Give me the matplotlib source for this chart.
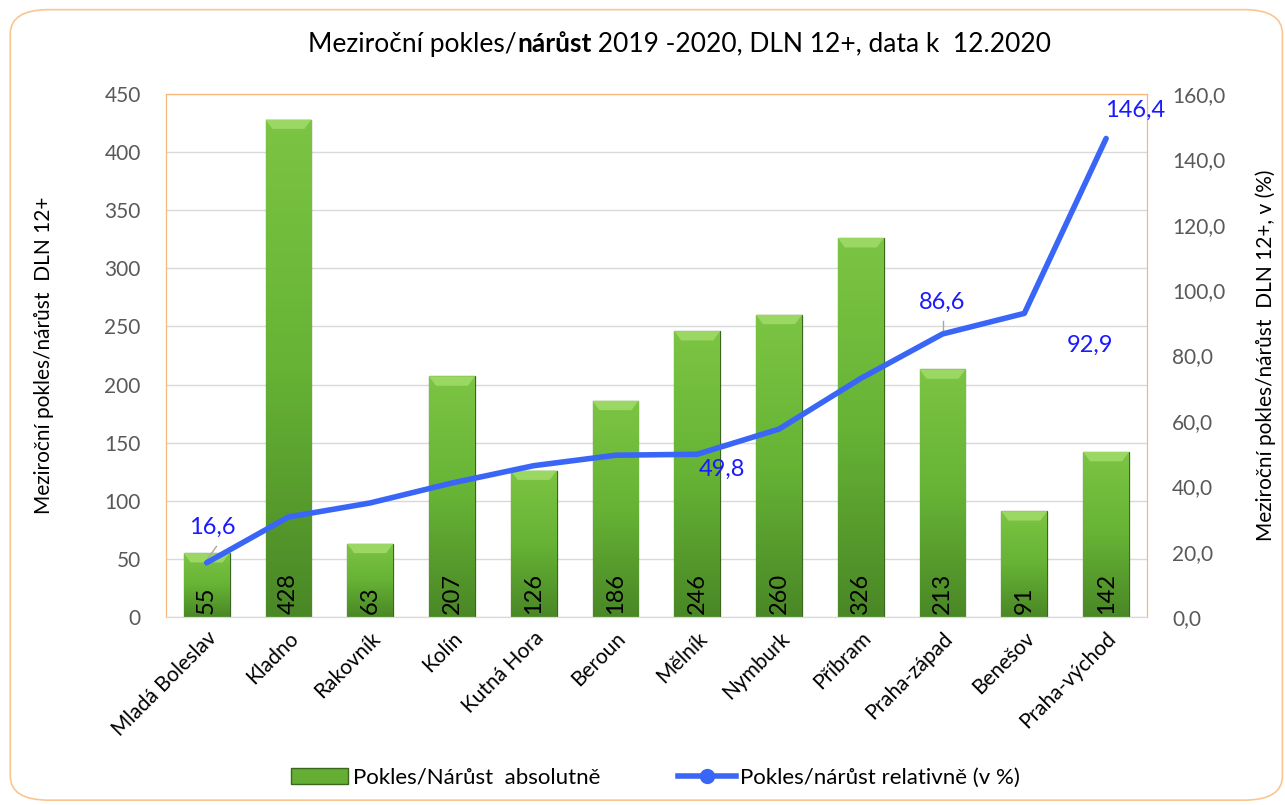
import matplotlib.pyplot as plt
import numpy as np
from matplotlib.patches import FancyBboxPatch
from matplotlib.colors import LinearSegmentedColormap
from matplotlib.lines import Line2D
from matplotlib.patches import Patch

plt.rcParams['font.family'] = ['Lato', 'DejaVu Sans']

# data
okresy = ['Mladá Boleslav', 'Kladno', 'Rakovník', 'Kolín', 'Kutná Hora', 'Beroun',
          'Mělník', 'Nymburk', 'Příbram', 'Praha-západ', 'Benešov', 'Praha-východ']
absolutne = [55, 428, 63, 207, 126, 186, 246, 260, 326, 213, 91, 142]
relativne = [16.6, 30.6, 34.9, 41.0, 46.3, 49.5, 49.8, 57.5, 73.0, 86.6, 92.9, 146.4]
# which points carry a label
popisky = {0: 16.6, 6: 49.8, 9: 86.6, 10: 92.9, 11: 146.4}

fig = plt.figure(figsize=(12.85, 8.05), dpi=100)

# rounded frame around the whole chart
fig.patches.append(FancyBboxPatch((0.008, 0.006), 0.99, 0.982,
                                  boxstyle='round,pad=0,rounding_size=0.03',
                                  transform=fig.transFigure, fill=False,
                                  edgecolor='#fbc58f', linewidth=1.2))

ax = fig.add_axes([0.129, 0.2335, 0.7636, 0.6497])
ax2 = ax.twinx()

x = np.arange(len(okresy))
sirka = 0.56
bars = ax.bar(x, absolutne, width=sirka, color='#64af33', edgecolor='#3a661d',
              linewidth=0.9, zorder=2)

# gradient fill in each bar
cmap = LinearSegmentedColormap.from_list('zelena', ['#7cc443', '#66b335', '#4a8826'])
grad = np.linspace(0, 1, 100).reshape(-1, 1)
for b in bars:
    bx, by = b.get_x(), b.get_y()
    bw, bh = b.get_width(), b.get_height()
    im = ax.imshow(grad, cmap=cmap, aspect='auto', extent=[bx, bx + bw, by, by + bh],
                   origin='upper', zorder=2)
    im.set_clip_path(b)
    # bevel on top
    ax.fill([bx, bx + bw, bx + bw * 0.85, bx + bw * 0.15],
            [by + bh, by + bh, by + bh - 8, by + bh - 8],
            color='#9ad863', zorder=3, linewidth=0)

for xi, v in zip(x, absolutne):
    ax.text(xi, 3, str(v), rotation=90, ha='center', va='bottom', fontsize=17,
            color='black', zorder=4)

ax.set_xlim(-0.5, len(okresy) - 0.5)
ax.set_ylim(0, 450)
ax.set_yticks(np.arange(0, 451, 50))
ax.grid(axis='y', color='#d9d9d9', linewidth=1, zorder=0)
ax.set_axisbelow(True)
ax.set_xticks(x)
ax.set_xticklabels(okresy, rotation=45, ha='right', rotation_mode='anchor', fontsize=15)
ax.tick_params(axis='x', length=0, pad=8)
ax.tick_params(axis='y', length=0, labelsize=15, labelcolor='#595959', pad=18)
ax.set_ylabel('Meziroční pokles/nárůst  DLN 12+', fontsize=15, labelpad=36)

ax2.plot(x, relativne, color='#3a66f7', linewidth=4, zorder=5,
         solid_capstyle='round', solid_joinstyle='round')
ax2.set_ylim(0, 160)
ax2.set_yticks(np.arange(0, 161, 20))
ax2.set_yticklabels([f'{v:.1f}'.replace('.', ',') for v in np.arange(0, 161, 20)])
ax2.tick_params(axis='y', length=0, labelsize=15, labelcolor='#595959', pad=18)
ax2.set_ylabel('Meziroční pokles/nárůst  DLN 12+, v (%)', fontsize=15, labelpad=22)

# labels on the line
posuny = {0: (0.07, 10.8), 6: (0.3, -4.5), 9: (0.0, 9.7), 10: (0.8, -9.7), 11: (0.35, 8.7)}
for i, v in popisky.items():
    dx, dy = posuny[i]
    ax2.text(x[i] + dx, v + dy, f'{v:.1f}'.replace('.', ','), color='#1a1aff',
             fontsize=17, ha='center', va='center', zorder=6)
# small leader lines
ax2.plot([x[0], x[0] + 0.12], [relativne[0] + 0.8, relativne[0] + 5], color='#a6a6a6', lw=1)
ax2.plot([x[9], x[9] + 0.0], [relativne[9] + 0.8, relativne[9] + 4], color='#a6a6a6', lw=1)

for a in (ax, ax2):
    a.spines['left'].set_color('#f7b77a')
    a.spines['right'].set_color('#f7b77a')
    a.spines['top'].set_color('#f7b77a')
    a.spines['bottom'].set_color('#d9d9d9')

# title with bold part
fig.canvas.draw()
r = fig.canvas.get_renderer()
casti = [('Meziroční pokles/', 'normal'), ('nárůst', 'bold'),
         (' 2019 -2020, DLN 12+, data k  12.2020', 'normal')]
texty = [fig.text(0, 0.945, s, fontsize=19, fontweight=w, va='center') for s, w in casti]
sirky = [t.get_window_extent(r).width / fig.bbox.width for t in texty]
xpos = 0.529 - sum(sirky) / 2
for t, w in zip(texty, sirky):
    t.set_x(xpos)
    xpos += w

handles = [Patch(facecolor='#64af33', edgecolor='#3a661d'),
           Line2D([0], [0], color='#3a66f7', lw=4, marker='o', markersize=10,
                  markerfacecolor='#3a66f7')]
fig.legend(handles, ['Pokles/Nárůst  absolutně', 'Pokles/nárůst relativně (v %)'],
           loc='center', bbox_to_anchor=(0.51, 0.034), ncol=2, frameon=False,
           fontsize=16, handlelength=2.6, columnspacing=3.5, handletextpad=0.2)

fig.savefig('out.png', dpi=100)
